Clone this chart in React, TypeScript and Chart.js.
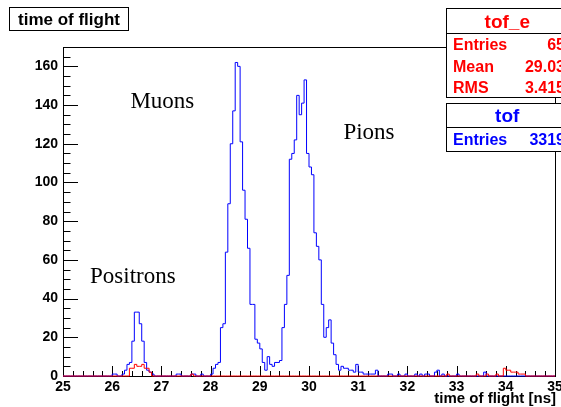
import React, { useEffect, useRef } from 'react';
import { Chart, registerables } from 'chart.js';

Chart.register(...registerables);

// Histogram definition (ROOT TH1: 200 bins from 25 to 35 ns)
const X_MIN = 25;
const X_MAX = 35;
const N_BINS = 200;
const Y_MAX = 170;

const xTickValues = [25, 26, 27, 28, 29, 30, 31, 32, 33, 34, 35];
const yTickValues = [0, 20, 40, 60, 80, 100, 120, 140, 160];
const X_MINOR_STEP = 0.2;
const Y_MINOR_STEP = 5;

// "tof" (blue) bin contents, one row per ns (20 bins of 0.05 ns)
const tofCounts = [
  /* 25 */ 0, 0, 0, 0, 0, 0, 0, 0, 0, 0, 0, 0, 0, 0, 0, 0, 0, 0, 0, 0,
  /* 26 */ 0, 1, 1, 0, 0, 1, 3, 6, 7, 18, 33, 33, 27, 18, 7, 3, 2, 1, 0, 0,
  /* 27 */ 0, 0, 0, 0, 0, 0, 0, 1, 1, 0, 0, 0, 0, 1, 1, 0, 0, 1, 0, 0,
  /* 28 */ 0, 1, 4, 6, 7, 25, 27, 64, 89, 120, 137, 162, 160, 121, 96, 81, 66, 37, 37, 19,
  /* 29 */ 17, 14, 7, 3, 10, 6, 5, 7, 7, 8, 25, 37, 52, 112, 115, 122, 145, 135, 141, 153,
  /* 30 */ 115, 108, 104, 74, 67, 60, 37, 20, 25, 29, 17, 11, 6, 3, 5, 4, 4, 3, 3, 2,
  /* 31 */ 6, 2, 2, 1, 1, 1, 1, 1, 3, 0, 0, 0, 0, 1, 1, 0, 0, 1, 0, 0,
  /* 32 */ 1, 0, 0, 0, 1, 0, 1, 0, 1, 1, 0, 0, 2, 3, 0, 1, 0, 0, 0, 0,
  /* 33 */ 0, 1, 0, 0, 0, 0, 0, 0, 0, 0, 0, 0, 2, 0, 0, 0, 0, 0, 0, 0,
  /* 34 */ 0, 0, 0, 0, 0, 0, 0, 0, 0, 0, 0, 0, 0, 0, 0, 0, 0, 0, 0, 0,
];

// "tof_e" (red) bin contents
const tofECounts = [
  /* 25 */ 0, 0, 0, 0, 0, 0, 0, 0, 0, 0, 0, 0, 0, 0, 0, 0, 0, 0, 0, 0,
  /* 26 */ 0, 0, 0, 0, 0, 0, 0, 0, 4, 4, 6, 5, 5, 6, 4, 4, 2, 0, 0, 0,
  /* 27 */ 0, 0, 0, 0, 0, 0, 0, 0, 0, 0, 0, 0, 0, 1, 0, 0, 0, 0, 0, 0,
  /* 28 */ 0, 0, 0, 0, 0, 0, 0, 0, 0, 0, 0, 0, 0, 0, 0, 0, 0, 0, 0, 0,
  /* 29 */ 0, 0, 0, 0, 0, 0, 0, 0, 0, 0, 0, 0, 0, 0, 0, 0, 0, 0, 0, 0,
  /* 30 */ 0, 0, 0, 0, 0, 0, 0, 0, 0, 0, 0, 0, 0, 0, 0, 0, 0, 0, 0, 0,
  /* 31 */ 0, 0, 0, 0, 0, 0, 0, 0, 0, 0, 0, 0, 0, 0, 0, 0, 0, 0, 0, 0,
  /* 32 */ 0, 0, 0, 0, 0, 0, 0, 0, 0, 0, 0, 0, 0, 0, 0, 0, 0, 1, 0, 0,
  /* 33 */ 0, 0, 0, 0, 0, 0, 0, 0, 0, 1, 0, 0, 0, 1, 0, 0, 0, 1, 0, 0,
  /* 34 */ 4, 3, 3, 2, 2, 2, 1, 1, 1, 0, 0, 0, 0, 0, 0, 0, 0, 0, 0, 0,
];

// Stats boxes
const statsE = { name: 'tof_e', rows: [['Entries', '65'], ['Mean', '29.03'], ['RMS', '3.415']] };
const statsTof = { name: 'tof', rows: [['Entries', '3319']] };

// Text annotations (data coordinates)
const annotations = [
  { text: 'Muons', x: 26.37, y: 138.5 },
  { text: 'Pions', x: 30.7, y: 122.5 },
  { text: 'Positrons', x: 25.55, y: 48 },
];

const SANS = '"Liberation Sans", Arial, Helvetica, sans-serif';
const SERIF = '"Liberation Serif", "Times New Roman", serif';

function toSteps(counts: number[]) {
  const w = (X_MAX - X_MIN) / N_BINS;
  const pts: { x: number; y: number }[] = [];
  for (let i = 0; i < counts.length; i++) pts.push({ x: X_MIN + i * w, y: counts[i] });
  pts.push({ x: X_MAX, y: counts[counts.length - 1] });
  return pts;
}

const rootPlugin = {
  id: 'rootDecor',
  beforeDatasetsDraw(chart: any) {
    const { ctx, chartArea: a, scales } = chart;
    const xs = scales.x;
    const ys = scales.y;
    ctx.save();
    ctx.strokeStyle = '#000';
    ctx.lineWidth = 1;
    ctx.strokeRect(a.left + 0.5, a.top + 0.5, a.right - a.left, a.bottom - a.top);
    ctx.beginPath();
    // x ticks (inside, pointing up)
    const nx = Math.round((X_MAX - X_MIN) / X_MINOR_STEP);
    for (let i = 0; i <= nx; i++) {
      const v = X_MIN + i * X_MINOR_STEP;
      const major = Math.abs(v - Math.round(v)) < 1e-6;
      const px = Math.round(xs.getPixelForValue(v)) + 0.5;
      const len = major ? 10 : 5;
      ctx.moveTo(px, a.bottom);
      ctx.lineTo(px, a.bottom - len);
    }
    // y ticks (inside, pointing right)
    const ny = Math.floor(Y_MAX / Y_MINOR_STEP);
    for (let i = 0; i <= ny; i++) {
      const v = i * Y_MINOR_STEP;
      const major = v % 20 === 0;
      const py = Math.round(ys.getPixelForValue(v)) + 0.5;
      const len = major ? 15 : 7.5;
      ctx.moveTo(a.left, py);
      ctx.lineTo(a.left + len, py);
    }
    ctx.stroke();
    ctx.restore();
  },
  afterDatasetsDraw(chart: any) {
    const { ctx, scales } = chart;
    ctx.save();
    ctx.fillStyle = '#000';
    ctx.font = `23px ${SERIF}`;
    ctx.textAlign = 'left';
    ctx.textBaseline = 'alphabetic';
    for (const an of annotations) {
      ctx.fillText(an.text, scales.x.getPixelForValue(an.x), scales.y.getPixelForValue(an.y));
    }
    ctx.restore();
  },
  afterDraw(chart: any) {
    const { ctx, chartArea: a } = chart;
    ctx.save();
    ctx.lineWidth = 1;
    ctx.strokeStyle = '#000';

    // Title box
    ctx.fillStyle = '#fff';
    ctx.fillRect(9.5, 7.5, 119, 23);
    ctx.strokeRect(9.5, 7.5, 119, 23);
    ctx.fillStyle = '#000';
    ctx.font = `bold 17px ${SANS}`;
    ctx.textAlign = 'center';
    ctx.textBaseline = 'alphabetic';
    ctx.fillText('time of flight', 69, 25);

    // x-axis title
    ctx.font = `bold 15px ${SANS}`;
    ctx.textAlign = 'right';
    ctx.fillText('time of flight [ns]', a.right + 1, 403);

    const drawStats = (s: any, top: number, bottom: number, sep: number, color: string, titleBase: number, rowBase: number[]) => {
      const left = 446.5;
      const right = 568;
      ctx.fillStyle = '#fff';
      ctx.fillRect(left, top, right - left, bottom - top);
      ctx.strokeStyle = '#000';
      ctx.strokeRect(left, top, right - left, bottom - top);
      ctx.beginPath();
      ctx.moveTo(left, sep);
      ctx.lineTo(right, sep);
      ctx.stroke();
      ctx.fillStyle = color;
      ctx.font = `bold 19px ${SANS}`;
      ctx.textAlign = 'center';
      ctx.fillText(s.name, (left + right) / 2, titleBase);
      ctx.font = `bold 16px ${SANS}`;
      s.rows.forEach((r: string[], i: number) => {
        ctx.textAlign = 'left';
        ctx.fillText(r[0], 453, rowBase[i]);
        ctx.textAlign = 'right';
        ctx.fillText(r[1], 565, rowBase[i]);
      });
    };
    drawStats(statsE, 8.5, 97.5, 33.5, '#ff0000', 28, [50, 72, 93]);
    drawStats(statsTof, 103.5, 151.5, 127.5, '#0000ff', 122, [145]);
    ctx.restore();
  },
};

export default function App() {
  const ref = useRef<HTMLCanvasElement | null>(null);
  useEffect(() => {
    if (!ref.current) return;
    const tickFont = { family: SANS, size: 14, weight: 'bold' as const };
    const chart = new Chart(ref.current, {
      type: 'line',
      data: {
        datasets: [
          {
            label: 'tof',
            data: toSteps(tofCounts),
            stepped: 'after',
            borderColor: '#0000ff',
            borderWidth: 1,
            pointRadius: 0,
            fill: false,
            order: 2,
            clip: false as any,
          },
          {
            label: 'tof_e',
            data: toSteps(tofECounts),
            stepped: 'after',
            borderColor: '#ff0000',
            borderWidth: 1,
            pointRadius: 0,
            fill: false,
            order: 1,
            clip: false as any,
          },
        ],
      },
      options: {
        animation: false,
        responsive: false,
        devicePixelRatio: 1,
        events: [],
        layout: { padding: { left: 0, right: 6, top: 47, bottom: 0 } },
        plugins: { legend: { display: false }, tooltip: { enabled: false }, title: { display: false } },
        scales: {
          x: {
            type: 'linear',
            min: X_MIN,
            max: X_MAX,
            grid: { display: false, drawTicks: false },
            border: { display: false },
            ticks: { font: tickFont, color: '#000', padding: 3, maxRotation: 0, autoSkip: false },
            afterBuildTicks: (s: any) => {
              s.ticks = xTickValues.map((v) => ({ value: v }));
            },
            afterFit: (s: any) => {
              s.height = 31;
              s.paddingLeft = 0;
              s.paddingRight = 0;
            },
          },
          y: {
            type: 'linear',
            min: 0,
            max: Y_MAX,
            grid: { display: false, drawTicks: false },
            border: { display: false },
            ticks: { font: tickFont, color: '#000', padding: 5 },
            afterBuildTicks: (s: any) => {
              s.ticks = yTickValues.map((v) => ({ value: v }));
            },
            afterFit: (s: any) => {
              s.width = 63;
              s.paddingTop = 0;
              s.paddingBottom = 0;
            },
          },
        },
      },
      plugins: [rootPlugin],
    });
    return () => chart.destroy();
  }, []);
  return (
    <div style={{ position: 'absolute', left: 0, top: 0, width: 561, height: 407, background: '#fff' }}>
      <canvas ref={ref} width={561} height={407} style={{ display: 'block' }} />
    </div>
  );
}
